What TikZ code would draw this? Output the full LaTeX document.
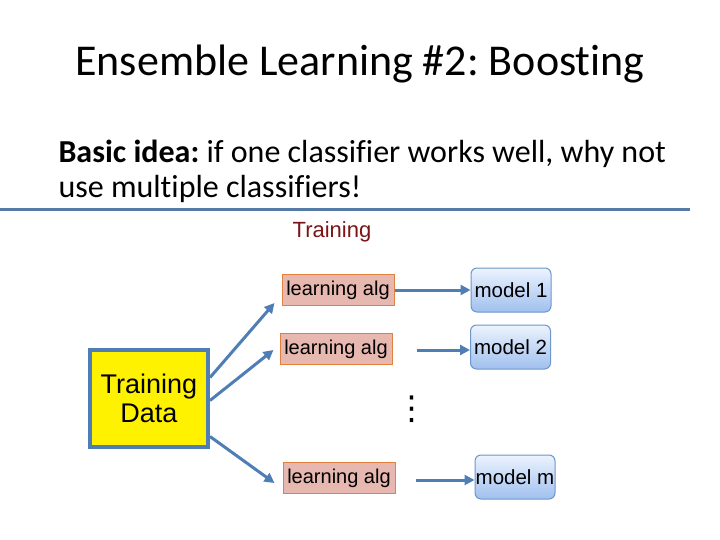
\documentclass[tikz,border=0pt]{standalone}
\usepackage{fontspec}
\setmainfont{Carlito}[Ligatures={NoCommon}]
\newfontfamily\arialfont{Liberation Sans}
\newfontfamily\symfont{DejaVu Sans}
\usetikzlibrary{arrows.meta}
\frenchspacing

\definecolor{rulecol}{RGB}{84,122,165}
\definecolor{flowcol}{RGB}{79,125,181}
\definecolor{algfill}{RGB}{230,184,175}
\definecolor{algdraw}{RGB}{226,128,62}
\definecolor{modtop}{RGB}{236,243,254}
\definecolor{modbot}{RGB}{160,192,238}
\definecolor{moddraw}{RGB}{110,150,200}
\definecolor{datadraw}{RGB}{79,125,181}
\definecolor{trainred}{RGB}{122,20,22}

\tikzset{
  algbox/.style={draw=algdraw, fill=algfill, line width=1pt, minimum width=112pt,
    minimum height=31pt, inner sep=1pt, font=\arialfont\fontsize{20}{23}\selectfont},
  modelbox/.style={draw=moddraw, top color=modtop, bottom color=modbot, rounded corners=6pt,
    line width=1pt, minimum width=80pt, minimum height=44pt, inner sep=0pt,
    font=\arialfont\fontsize{20.5}{23}\selectfont},
  databox/.style={draw=datadraw, fill=yellow, line width=4pt, minimum width=118pt,
    minimum height=97pt, align=center, font=\arialfont\fontsize{27}{33}\selectfont},
  flow/.style={draw=flowcol, line width=3pt, -{Triangle[length=10pt,width=10pt]}}
}

\begin{document}
\begin{tikzpicture}[x=1pt, y=-1pt]
  \useasboundingbox (0,0) rectangle (720,540);
  % titolo e testo
  \node[anchor=base, font=\fontsize{44}{50}\selectfont] (title) at (360,76)
    {Ensemble Learning \#2: Boosting};
  \node[anchor=base west, font=\fontsize{32}{36}\selectfont] (line1) at (55,163)
    {\textbf{Basic idea:} if one classifier works well, why not};
  \node[anchor=base west, font=\fontsize{32}{36}\selectfont] (line2) at (55,197)
    {use multiple classifiers!};
  \draw[rulecol, line width=3pt] (0,210) -- (690,210);
  \node[anchor=base, text=trainred, font=\arialfont\fontsize{22}{26}\selectfont] (train)
    at (332,237) {Training};

  % blocchi
  \node[databox] (data) at (149,398.5) {Training\\[-4pt]Data};
  \node[algbox] (alg1) at (338,290) {learning alg};
  \node[algbox] (alg2) at (336,349) {learning alg};
  \node[algbox] (algm) at (339,478) {learning alg};
  \node[modelbox] (mod1) at (511,290) {model 1};
  \node[modelbox] (mod2) at (510.5,347) {model 2};
  \node[modelbox] (modm) at (515,477) {model m};
  \node[inner sep=0pt, font=\symfont\fontsize{33}{33}\selectfont] (dots)
    at (412,409) {⋮};

  % frecce
  \draw[flow] ([yshift=21pt]data.east) -- ([xshift=-7pt,yshift=-13pt]alg1.west);
  \draw[flow] ([yshift=-2pt]data.east) -- ([xshift=-6pt,yshift=-1pt]alg2.west);
  \draw[flow] ([yshift=-38pt]data.east) -- ([xshift=-8pt,yshift=-5pt]algm.west);
  \draw[flow] (alg1.east) -- (alg1.east -| mod1.west);
  \draw[flow, shorten <=24pt] ([yshift=-1pt]alg2.east) -- ([yshift=-1pt]alg2.east -| mod2.west);
  \draw[flow, shorten <=20pt] ([yshift=-2pt]algm.east) -- ([yshift=-2pt]algm.east -| modm.west);
\end{tikzpicture}
\end{document}
